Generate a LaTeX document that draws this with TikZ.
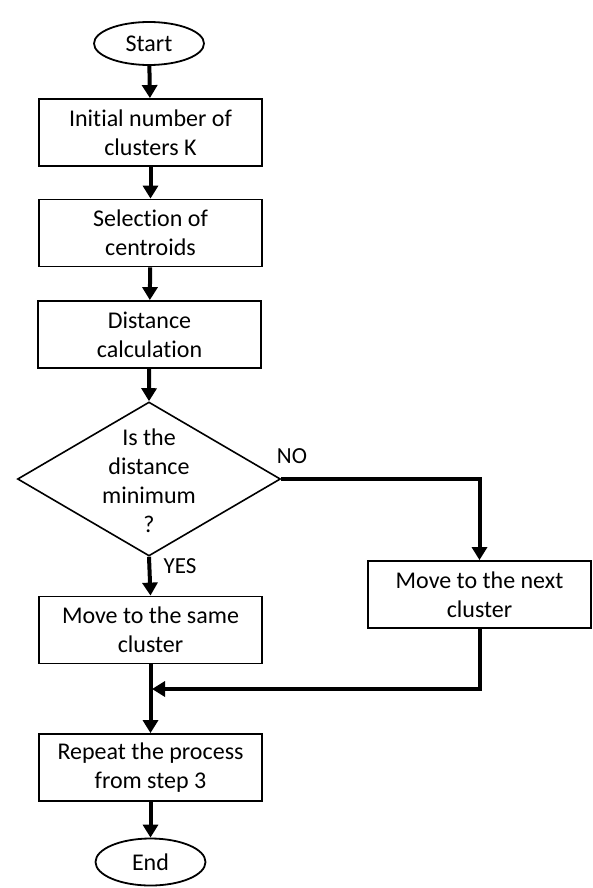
\documentclass[tikz,border=0pt]{standalone}
\usepackage{fontspec}
\setmainfont[RawFeature={-liga}]{Carlito}
\usetikzlibrary{shapes.geometric,arrows.meta}
\begin{document}
\begin{tikzpicture}[x=1pt,y=-1pt,
  txt/.style={font=\fontsize{24}{29}\selectfont,align=center},
  box/.style={txt,draw,line width=1.8pt,minimum width=223pt,minimum height=67pt,inner sep=0pt},
  term/.style={txt,draw,ellipse,line width=1.8pt,minimum width=110pt,minimum height=43pt,inner sep=0pt},
  flow/.style={line width=4pt,-{Triangle[width=15pt,length=13pt]}},
  lbl/.style={font=\fontsize{23}{28}\selectfont}]
\fill[white] (0,0) rectangle (593,888);
\useasboundingbox (0,0) rectangle (593,888);
\node[term] (start) at (149,43.5) {Start};
\node[box] (b1) at (150.5,132.5) {Initial number of\\clusters K};
\node[box] (b2) at (150.5,233) {Selection of\\centroids};
\node[box] (b3) at (149.5,334.5) {Distance\\calculation};
\node[diamond,draw,line width=1.6pt,minimum width=263pt,minimum height=154pt,inner sep=0pt] (dec) at (149,479) {};
\node[txt] (dectext) at (149,481) {Is the\\distance\\minimum\\?};
\node[box] (next) at (479.5,594.5) {Move to the next\\cluster};
\node[box] (same) at (150.5,630) {Move to the same\\cluster};
\node[box] (rep) at (150.5,767.5) {Repeat the process\\from step 3};
\node[term,minimum height=47pt] (end) at (150.5,862) {End};
\coordinate (merge) at (152,689);
\node[lbl] (no) at (292,456) {NO};
\node[lbl] (yes) at (180,566) {YES};
\draw[flow] (start) -- (b1);
\draw[flow] (b1) -- (b2);
\draw[flow] (b2) -- (b3);
\draw[flow] (b3) -- (dec.north);
\draw[flow] (dec.east) -| (next.north);
\draw[flow] (dec.south) -- (same.north);
\draw[flow] (next.south) |- (merge);
\draw[flow] (same.south) -- (rep.north);
\draw[flow] (rep) -- (end);
\end{tikzpicture}
\end{document}
